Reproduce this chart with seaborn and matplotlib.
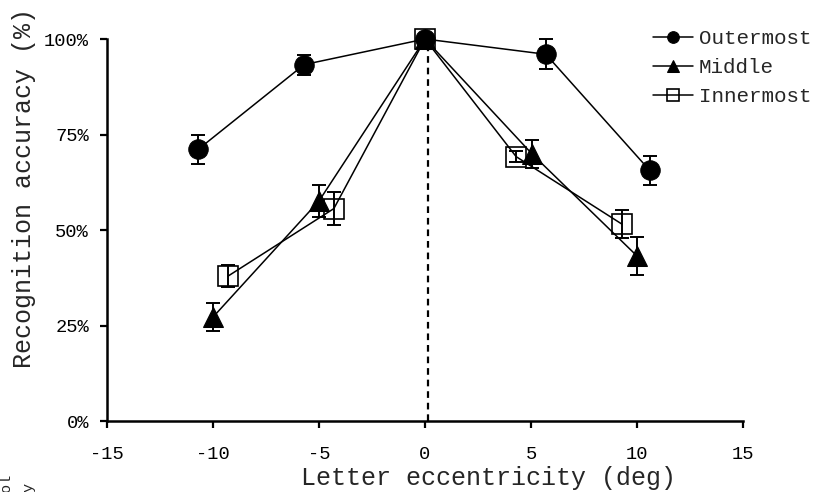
import matplotlib
matplotlib.use("Agg")
import matplotlib.pyplot as plt
import seaborn as sns
import pandas as pd
import numpy as np

# ---- data ----
outer_x = [-10.7, -5.7, 0.0, 5.7, 10.6]
outer_y = [71.1, 93.3, 100.0, 96.0, 65.6]
outer_err = [3.7, 2.6, 0.5, 3.9, 3.7]

middle_x = [-10.0, -5.0, 0.0, 5.05, 10.0]
middle_y = [27.2, 57.6, 100.0, 69.9, 43.2]
middle_err = [3.7, 4.2, 0.5, 3.6, 4.9]

inner_x = [-9.3, -4.3, 0.0, 4.3, 9.3]
inner_y = [37.9, 55.6, 100.0, 69.2, 51.5]
inner_err = [2.9, 4.4, 0.5, 1.4, 3.7]

series_names = ["Outermost", "Middle", "Innermost"]
x_ticks = [-15, -10, -5, 0, 5, 10, 15]
y_ticks = [0, 25, 50, 75, 100]
y_tick_labels = ["0%", "25%", "50%", "75%", "100%"]
midline_x = 0.12

sns.set_style("ticks")
plt.rcParams["font.family"] = ["Liberation Mono", "DejaVu Sans Mono"]

fig = plt.figure(figsize=(8.16, 4.92), dpi=100)
ax = fig.add_axes([107/816, 1-421/492, 636/816, 382/492])

styles = {
    "Outermost": dict(marker="o", ms=14, mfc="black", mec="black"),
    "Middle": dict(marker="^", ms=15, mfc="black", mec="black"),
    "Innermost": dict(marker="s", ms=14, mfc="none", mec="black", mew=1.2),
}
data = {
    "Outermost": (outer_x, outer_y, outer_err),
    "Middle": (middle_x, middle_y, middle_err),
    "Innermost": (inner_x, inner_y, inner_err),
}

ax.plot([midline_x, midline_x], [0, 100], ls=(0, (3, 2.2)), color="black", lw=1.6, zorder=1)

zs = {"Outermost": 5, "Middle": 4, "Innermost": 3}
for name in ["Innermost", "Middle", "Outermost"]:
    xs, ys, es = data[name]
    df = pd.DataFrame({"x": xs, "y": ys})
    sns.lineplot(data=df, x="x", y="y", ax=ax, color="black", lw=1.1,
                 label=name, clip_on=False, zorder=zs[name], sort=True,
                 **styles[name])
    ax.errorbar(xs, ys, yerr=es, fmt="none", ecolor="black", elinewidth=1.4,
                capsize=5, capthick=1.4, clip_on=False, zorder=zs[name])

ax.set_xlim(-15, 15)
ax.set_ylim(0, 100)
ax.set_xticks(x_ticks)
ax.set_xticklabels([str(t) for t in x_ticks])
ax.set_yticks(y_ticks)
ax.set_yticklabels(y_tick_labels)
ax.tick_params(axis="both", direction="out", length=5, width=1.6, labelsize=13.5,
               colors="black")
ax.tick_params(axis="x", pad=13)
ax.tick_params(axis="y", pad=8)
for s in ["top", "right"]:
    ax.spines[s].set_visible(False)
for s in ["left", "bottom"]:
    ax.spines[s].set_linewidth(1.8)
    ax.spines[s].set_color("black")

ax.set_xlabel("Letter eccentricity (deg)", fontsize=18)
ax.set_ylabel("Recognition accuracy (%)", fontsize=18)
ax.xaxis.set_label_coords(0.60, -0.117)
ax.yaxis.set_label_coords(-0.112, 0.61)

handles, labels = ax.get_legend_handles_labels()
order = [labels.index(n) for n in series_names]
leg = ax.legend([handles[i] for i in order], [labels[i] for i in order],
                loc="upper left", bbox_to_anchor=(653/816, 1-29/492),
                bbox_transform=fig.transFigure, frameon=False, fontsize=15,
                markerscale=0.6, handlelength=1.9, handletextpad=0.3,
                labelspacing=0.49, borderpad=0, borderaxespad=0)

fig.text(-0.001, 0.0, "ol", rotation=90, fontsize=11, ha="left", va="bottom")
fig.text(0.026, 0.0, "y", rotation=90, fontsize=11, ha="left", va="bottom")

fig.savefig("out.png", dpi=100)
